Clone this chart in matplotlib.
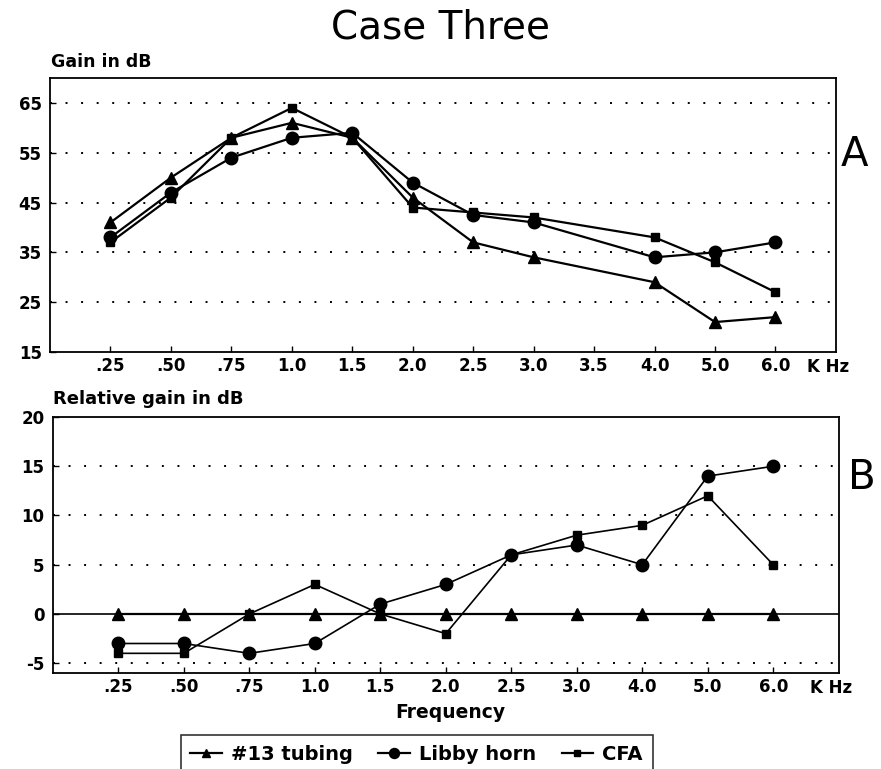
import numpy as np
import matplotlib
matplotlib.use("Agg")
import matplotlib.pyplot as plt
import matplotlib.transforms as mtransforms

plt.rcParams['font.family'] = ['DejaVu Sans']

# top panel (A): absolute gain
freq_a = [".25", ".50", ".75", "1.0", "1.5", "2.0", "2.5", "3.0", "3.5", "4.0", "5.0", "6.0"]
freq_a_data = [".25", ".50", ".75", "1.0", "1.5", "2.0", "2.5", "3.0", "4.0", "5.0", "6.0"]
tubing_a = [41, 50, 58, 61, 58, 46, 37, 34, 29, 21, 22]
libby_a = [38, 47, 54, 58, 59, 49, 42.5, 41, 34, 35, 37]
cfa_a = [37, 46, 58, 64, 58, 44, 43, 42, 38, 33, 27]

# bottom panel (B): relative gain
freq_b = [".25", ".50", ".75", "1.0", "1.5", "2.0", "2.5", "3.0", "4.0", "5.0", "6.0"]
tubing_b = [0, 0, 0, 0, 0, 0, 0, 0, 0, 0, 0]
libby_b = [-3, -3, -4, -3, 1, 3, 6, 7, 5, 14, 15]
cfa_b = [-4, -4, 0, 3, 0, -2, 6, 8, 9, 12, 5]

yticks_a = [15, 25, 35, 45, 55, 65]
yticks_b = [-5, 0, 5, 10, 15, 20]

fig = plt.figure(figsize=(8.81, 7.69), dpi=100)
axA = fig.add_axes([0.0568, 0.5423, 0.892, 0.3563])
axB = fig.add_axes([0.060, 0.1248, 0.892, 0.3329])

tick_font = dict(fontsize=12, fontweight='bold')
dots = (0, (1, 7))

# panel A
pos_a = {f: i + 1 for i, f in enumerate(freq_a)}
xa = [pos_a[f] for f in freq_a_data]
axA.plot(xa, tubing_a, color='black', lw=1.6, marker='^', ms=8, label='#13 tubing')
axA.plot(xa, libby_a, color='black', lw=1.6, marker='o', ms=9, label='Libby horn')
axA.plot(xa, cfa_a, color='black', lw=1.6, marker='s', ms=5.5, label='CFA')
axA.set_xlim(0, 13)
axA.set_ylim(15, 70)
axA.set_xticks(range(1, len(freq_a) + 1))
axA.set_xticklabels(freq_a, **tick_font)
axA.set_yticks(yticks_a)
axA.set_yticklabels([str(v) for v in yticks_a], **tick_font)
for v in yticks_a[1:]:
    axA.axhline(v, color='black', lw=1.4, ls=dots, zorder=0)
axA.tick_params(direction='in', length=4, width=1)
axA.tick_params(axis='y', pad=6)
for s in axA.spines.values():
    s.set_linewidth(1.3)
trA = mtransforms.blended_transform_factory(axA.transData, axA.transAxes)
axA.text(12.52, -0.022, 'K Hz', transform=trA, ha='left', va='top', **tick_font)

# panel B
xb = list(range(1, len(freq_b) + 1))
axB.plot(xb, tubing_b, color='black', lw=1.6, marker='^', ms=8)
axB.plot(xb, libby_b, color='black', lw=1.2, marker='o', ms=9)
axB.plot(xb, cfa_b, color='black', lw=1.2, marker='s', ms=5.5)
axB.set_xlim(0, 12)
axB.set_ylim(-6, 20)
axB.set_xticks(xb)
axB.set_xticklabels(freq_b, **tick_font)
axB.set_yticks(yticks_b)
axB.set_yticklabels([str(v) for v in yticks_b], **tick_font)
for v in [-5, 5, 10, 15]:
    axB.axhline(v, color='black', lw=1.4, ls=dots, zorder=0)
axB.axhline(0, color='black', lw=1.2, zorder=1)
axB.tick_params(direction='in', length=4, width=1)
axB.tick_params(axis='y', pad=6)
for s in axB.spines.values():
    s.set_linewidth(1.3)
trB = mtransforms.blended_transform_factory(axB.transData, axB.transAxes)
axB.text(11.56, -0.024, 'K Hz', transform=trB, ha='left', va='top', **tick_font)

# texts
fig.text(0.5, 0.964, 'Case Three', ha='center', va='center', fontsize=28)
fig.text(0.058, 0.919, 'Gain in dB', ha='left', va='center', fontsize=12.5, fontweight='bold')
fig.text(0.060, 0.481, 'Relative gain in dB', ha='left', va='center', fontsize=13, fontweight='bold')
fig.text(0.970, 0.798, 'A', ha='center', va='center', fontsize=29)
fig.text(0.978, 0.378, 'B', ha='center', va='center', fontsize=29)
fig.text(0.511, 0.074, 'Frequency', ha='center', va='center', fontsize=13.5, fontweight='bold')

leg = fig.legend(loc='upper center', bbox_to_anchor=(0.473, 0.0442), ncol=3,
                 frameon=True, fancybox=False, edgecolor='black',
                 handlelength=1.6, handletextpad=0.5, columnspacing=1.3,
                 markerscale=0.8, prop=dict(size=14, weight='bold'),
                 borderpad=0.5, borderaxespad=0)
leg.get_frame().set_linewidth(1.2)

fig.savefig('out.png', dpi=100)
